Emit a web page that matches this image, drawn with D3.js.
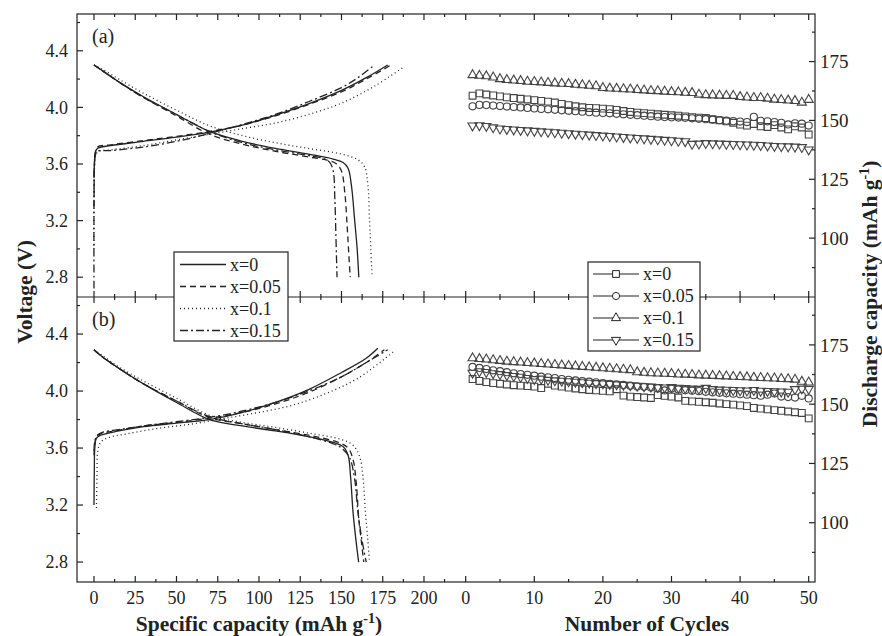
<!DOCTYPE html>
<html>
<head>
<meta charset="utf-8">
<script src="https://cdn.jsdelivr.net/npm/d3@7"></script>
<style>
  body { margin: 0; background: #fff; }
</style>
</head>
<body>
<svg id="chart" width="882" height="636"></svg>
<script>
// ---- data ----
const series = ['x=0', 'x=0.05', 'x=0.1', 'x=0.15'];
const dashes = [null, '6,4', '1,3', '8,3,2,3'];
const symbols = ['square', 'circle', 'triangle', 'triangleDown'];

// voltage curves [capacity mAh/g, V], panel (a)
const chargeA = [
  [[0,3.50],[0.3,3.62],[0.8,3.68],[2,3.71],[10,3.73],[30,3.76],[50,3.79],[70,3.825],[90,3.875],[110,3.945],[130,4.025],[150,4.12],[165,4.21],[178,4.30]],
  [[0,3.30],[0.3,3.60],[0.8,3.68],[2,3.72],[10,3.735],[30,3.765],[50,3.795],[70,3.83],[90,3.875],[110,3.94],[130,4.02],[150,4.11],[165,4.20],[180,4.30]],
  [[0,3.00],[0.4,3.60],[1.2,3.67],[3,3.69],[10,3.70],[30,3.73],[50,3.77],[70,3.81],[90,3.85],[110,3.89],[130,3.95],[150,4.03],[170,4.15],[187,4.28]],
  [[0,2.72],[0.3,3.60],[0.8,3.66],[2,3.69],[10,3.695],[30,3.72],[50,3.76],[70,3.815],[90,3.88],[110,3.95],[130,4.04],[150,4.14],[160,4.21],[170,4.30]]
];
const dischargeA = [
  [[0,4.30],[5,4.26],[15,4.18],[30,4.075],[50,3.95],[70,3.83],[90,3.76],[110,3.71],[130,3.67],[145,3.635],[151,3.61],[154,3.57],[156,3.45],[158,3.20],[159.5,3.00],[160.5,2.80]],
  [[0,4.30],[5,4.26],[15,4.18],[30,4.07],[50,3.94],[70,3.81],[90,3.74],[110,3.69],[130,3.65],[142,3.625],[147,3.60],[150,3.55],[152,3.40],[153.5,3.15],[154.5,2.95],[155.3,2.80]],
  [[0,4.30],[5,4.27],[15,4.20],[30,4.10],[50,3.98],[70,3.87],[90,3.80],[110,3.75],[130,3.71],[150,3.67],[160,3.63],[164,3.58],[166,3.45],[167,3.20],[167.8,3.00],[168.5,2.80]],
  [[0,4.30],[5,4.26],[15,4.18],[30,4.07],[50,3.95],[70,3.83],[90,3.75],[110,3.70],[130,3.66],[140,3.635],[143,3.61],[145,3.55],[146,3.35],[146.6,3.10],[147.3,2.80]]
];
// panel (b)
const chargeB = [
  [[0,3.20],[0.2,3.45],[0.5,3.60],[1.5,3.67],[4,3.69],[15,3.72],[30,3.75],[50,3.775],[70,3.80],[90,3.85],[110,3.92],[130,4.01],[150,4.13],[165,4.23],[172,4.30]],
  [[0,3.55],[0.5,3.63],[1.5,3.68],[4,3.70],[15,3.725],[30,3.755],[50,3.78],[70,3.81],[90,3.85],[110,3.91],[130,3.99],[150,4.10],[165,4.20],[176,4.29]],
  [[1.5,3.18],[1.8,3.40],[2.3,3.58],[4,3.64],[8,3.67],[20,3.70],[40,3.74],[60,3.77],[80,3.81],[100,3.85],[120,3.90],[140,3.98],[160,4.09],[182,4.28]],
  [[0,3.58],[0.5,3.65],[2,3.69],[5,3.71],[15,3.73],[30,3.755],[50,3.785],[70,3.815],[90,3.86],[110,3.92],[130,4.00],[150,4.10],[165,4.20],[178,4.29]]
];
const dischargeB = [
  [[0,4.29],[5,4.24],[15,4.16],[30,4.05],[50,3.92],[70,3.80],[90,3.755],[110,3.72],[130,3.68],[145,3.64],[151,3.61],[154,3.55],[155.5,3.40],[157,3.15],[158.8,2.95],[160.4,2.80]],
  [[0,4.29],[5,4.24],[15,4.16],[30,4.05],[50,3.93],[70,3.815],[90,3.77],[110,3.73],[130,3.69],[148,3.64],[154,3.60],[157,3.52],[159,3.35],[160.5,3.10],[162,2.95],[163.5,2.80]],
  [[0,4.29],[5,4.25],[15,4.17],[30,4.07],[50,3.95],[70,3.83],[90,3.78],[110,3.745],[130,3.705],[150,3.66],[157,3.62],[161,3.54],[163,3.40],[164.5,3.15],[166,2.95],[167,2.80]],
  [[0,4.29],[5,4.24],[15,4.16],[30,4.05],[50,3.93],[70,3.82],[90,3.77],[110,3.73],[130,3.68],[145,3.63],[150,3.60],[155,3.53],[158,3.38],[160,3.15],[162.5,2.95],[165,2.80]]
];

// discharge capacity per cycle (1..50)
const cycleA = [
  [160.5,161.5,161.0,160.6,160.2,159.8,159.5,159.2,158.9,158.6,158.3,158.0,157.6,157.0,156.5,156.0,155.6,155.3,155.2,155.0,154.8,154.5,154.0,153.6,153.3,153.1,152.9,152.6,152.4,152.2,152.0,151.7,151.4,151.2,151.0,150.5,150.0,149.6,149.0,148.2,147.8,148.5,147.5,147.2,148.0,147.0,146.2,147.5,147.0,144.0],
  [156.0,156.6,156.5,156.3,156.1,155.9,155.7,155.5,155.3,155.1,154.9,154.7,154.5,154.3,154.1,153.9,153.7,153.5,153.3,153.1,153.0,152.8,152.6,152.4,152.2,152.0,151.8,151.6,151.4,151.3,151.2,151.1,150.9,150.7,150.5,150.3,150.1,149.9,149.7,149.5,149.3,151.5,149.8,149.6,149.3,149.0,148.3,148.8,148.6,147.8],
  [169.3,169.0,168.8,168.3,167.6,167.2,167.0,166.8,166.5,166.4,166.2,166.0,165.8,165.6,165.5,165.2,165.0,164.8,164.6,163.8,163.6,163.5,163.3,163.2,163.0,162.8,162.6,162.5,162.3,162.1,162.0,161.8,161.7,161.0,160.8,160.7,160.6,160.5,160.5,160.0,159.8,159.6,159.6,159.3,158.9,158.7,158.5,158.3,157.6,158.8],
  [147.8,147.9,147.6,147.0,146.5,146.3,146.1,145.9,145.7,145.5,145.3,145.1,144.9,144.7,144.5,144.3,144.1,143.9,143.7,143.5,143.3,143.1,142.9,142.7,142.5,142.3,142.1,141.9,141.7,141.5,141.3,141.1,140.0,140.1,140.3,140.2,140.1,140.0,139.9,139.8,139.7,139.6,139.5,139.3,139.1,139.0,138.9,138.8,138.6,137.6]
];
const cycleB = [
  [160.6,159.8,159.3,158.9,158.6,158.3,158.0,157.8,157.6,157.4,156.8,158.6,157.8,157.4,157.0,156.6,156.3,156.0,155.8,155.6,155.4,156.3,153.6,153.2,153.0,152.8,152.6,153.8,153.5,153.2,152.8,151.4,151.2,151.0,150.8,150.6,150.3,150.0,149.8,149.5,149.2,148.4,148.1,147.8,147.5,147.2,146.9,146.6,146.3,144.0],
  [165.7,165.3,164.8,164.3,163.9,163.5,163.0,162.7,162.4,162.0,161.6,161.3,161.0,160.6,160.3,160.0,159.7,159.5,159.2,158.9,158.6,158.4,158.1,157.8,157.5,157.3,157.0,156.7,155.8,156.5,156.2,155.9,155.7,155.5,155.2,155.0,154.8,154.6,154.4,154.2,154.0,153.8,153.6,154.0,154.5,153.2,153.0,152.8,153.5,152.4],
  [169.4,169.1,168.9,168.6,168.3,168.0,167.8,167.6,167.4,167.2,167.0,166.8,166.6,166.4,166.2,166.0,165.8,165.6,165.4,165.2,165.0,164.8,164.6,164.4,163.5,163.3,163.1,163.0,162.9,162.8,162.6,162.5,162.4,162.2,162.1,162.0,161.9,161.8,161.6,161.5,161.4,161.2,161.1,161.0,160.9,160.7,160.6,160.4,159.5,159.2],
  [163.2,163.8,163.5,163.0,162.6,162.2,161.8,161.5,161.0,160.5,160.7,160.2,160.0,159.8,159.6,159.4,159.2,159.0,158.8,158.7,158.5,158.3,158.1,157.9,157.7,157.5,157.4,157.2,157.0,157.2,156.9,156.7,156.5,156.4,156.8,156.3,156.1,156.0,155.9,155.8,155.7,155.9,155.6,155.5,155.4,155.3,155.2,156.3,156.5,156.4]
];

const capTicks = [0, 25, 50, 75, 100, 125, 150, 175, 200];
const capMinor = [12.5, 37.5, 62.5, 87.5, 112.5, 137.5, 162.5, 187.5, 212.5];
const cycTicks = [0, 10, 20, 30, 40, 50];
const cycMinor = [5, 15, 25, 35, 45];
const vTicks = [2.8, 3.2, 3.6, 4.0, 4.4];
const vMinor = [3.0, 3.4, 3.8, 4.2, 4.6];
const qTicks = [100, 125, 150, 175];
const qMinor = [87.5, 112.5, 137.5, 162.5, 187.5];

// ---- layout ----
const FONT = '"Liberation Serif", "DejaVu Serif", serif';
const svg = d3.select('#chart').attr('font-family', FONT);
const L = 77, R = 815, T = 14, M = 297, B = 582, SPLIT = 455;
const ink = '#222';

const xCap = d3.scaleLinear([-10.3, 218.8], [L, SPLIT]);
const xCyc = d3.scaleLinear([-1.56, 50.92], [SPLIT, R]);
const panels = [
  { top: T, bot: M, label: '(a)', charge: chargeA, discharge: dischargeA, cycles: cycleA },
  { top: M, bot: B, label: '(b)', charge: chargeB, discharge: dischargeB, cycles: cycleB }
];
panels.forEach(p => {
  p.yV = d3.scaleLinear([2.66, 4.66], [p.bot, p.top]);
  p.yQ = d3.scaleLinear([75, 195.2], [p.bot, p.top]);
});

const symbolPath = {
  square: d3.symbol(d3.symbolSquare, 46)(),
  circle: d3.symbol(d3.symbolCircle, 40)(),
  triangle: d3.symbol(d3.symbolTriangle, 36)(),
  triangleDown: d3.symbol(d3.symbolTriangle, 36)()
};

// ---- curves & markers ----
const plot = svg.append('g');
const line = p => d3.line()
  .x(d => xCap(d[0]))
  .y(d => p.yV(d[1]))
  .curve(d3.curveCatmullRom.alpha(0.5));

panels.forEach(p => {
  [p.charge, p.discharge].forEach(group => {
    group.forEach((pts, i) => {
      plot.append('path')
        .attr('d', line(p)(pts))
        .attr('fill', 'none')
        .attr('stroke', ink)
        .attr('stroke-width', 1.3)
        .attr('stroke-dasharray', dashes[i]);
    });
  });

  p.cycles.forEach((vals, i) => {
    plot.append('g')
      .selectAll('path')
      .data(vals)
      .join('path')
      .attr('d', symbolPath[symbols[i]])
      .attr('transform', (v, k) => `translate(${xCyc(k + 1)},${p.yQ(v)})` + (symbols[i] === 'triangleDown' ? ' rotate(180)' : ''))
      .attr('fill', 'none')
      .attr('stroke', '#444')
      .attr('stroke-width', 1.1);
  });
});

// ---- frame & ticks ----
const axes = svg.append('g').attr('stroke', ink).attr('stroke-width', 1.2);
axes.append('rect')
  .attr('x', L).attr('y', T).attr('width', R - L).attr('height', B - T)
  .attr('fill', 'none');
axes.append('line').attr('x1', L).attr('x2', R).attr('y1', M).attr('y2', M);

// vertical ticks on the horizontal edges: dir +1 points down
function hTicks(scale, vals, y, len, dir) {
  vals.forEach(v => {
    const x = scale(v);
    axes.append('line').attr('x1', x).attr('x2', x).attr('y1', y).attr('y2', y + dir * len);
  });
}
[[xCap, capTicks, capMinor], [xCyc, cycTicks, cycMinor]].forEach(([s, major, minor]) => {
  hTicks(s, major, T, 6, 1);  hTicks(s, minor, T, 3, 1);
  hTicks(s, major, M, 6, 1);  hTicks(s, minor, M, 3, 1);
  hTicks(s, major, M, 6, -1); hTicks(s, minor, M, 3, -1);
  hTicks(s, major, B, 6, -1); hTicks(s, minor, B, 3, -1);
});

function vTicksAt(scale, vals, x, len, dir) {
  vals.forEach(v => {
    const y = scale(v);
    axes.append('line').attr('x1', x).attr('x2', x + dir * len).attr('y1', y).attr('y2', y);
  });
}
panels.forEach(p => {
  vTicksAt(p.yV, vTicks, L, 6, 1);
  vTicksAt(p.yV, vMinor, L, 3, 1);
  vTicksAt(p.yQ, qTicks, R, 6, -1);
  vTicksAt(p.yQ, qMinor, R, 3, -1);
});

// ---- tick labels ----
const txt = svg.append('g').attr('fill', ink).attr('font-size', 18);
panels.forEach(p => {
  txt.append('g').selectAll('text').data(vTicks).join('text')
    .attr('x', L - 9).attr('y', d => p.yV(d)).attr('dy', '0.35em')
    .attr('text-anchor', 'end').text(d => d.toFixed(1));
  txt.append('g').selectAll('text').data(qTicks).join('text')
    .attr('x', R + 5).attr('y', d => p.yQ(d)).attr('dy', '0.35em')
    .attr('font-size', 19).text(d => d);
  txt.append('text').attr('x', 92).attr('y', p.top + 29).attr('font-size', 20).text(p.label);
});
txt.append('g').selectAll('text').data(capTicks).join('text')
  .attr('x', d => xCap(d)).attr('y', B + 22).attr('text-anchor', 'middle').text(d => d);
txt.append('g').selectAll('text').data(cycTicks).join('text')
  .attr('x', d => xCyc(d)).attr('y', B + 22).attr('text-anchor', 'middle').text(d => d);

// ---- axis titles ----
const title = svg.append('g').attr('fill', ink).attr('font-size', 21.5).attr('font-weight', 'bold');
title.append('text')
  .attr('transform', `translate(32,292) rotate(-90)`)
  .attr('text-anchor', 'middle').text('Voltage (V)');
const rt = title.append('text')
  .attr('transform', `translate(877,294) rotate(-90)`)
  .attr('text-anchor', 'middle');
rt.append('tspan').text('Discharge capacity (mAh g');
rt.append('tspan').attr('font-size', 14).attr('dy', -8).text('-1');
rt.append('tspan').attr('dy', 8).text(')');
const bt = title.append('text').attr('x', 259).attr('y', 631).attr('text-anchor', 'middle');
bt.append('tspan').text('Specific capacity (mAh g');
bt.append('tspan').attr('font-size', 14).attr('dy', -8).text('-1');
bt.append('tspan').attr('dy', 8).text(')');
title.append('text').attr('x', 647).attr('y', 631).attr('text-anchor', 'middle').text('Number of Cycles');

// ---- legends ----
const leg1 = svg.append('g');
leg1.append('rect').attr('x', 174).attr('y', 252).attr('width', 114).attr('height', 89)
  .attr('fill', '#fff').attr('stroke', ink).attr('stroke-width', 1.2);
series.forEach((s, i) => {
  const y = 264.5 + i * 22;
  leg1.append('line').attr('x1', 180).attr('x2', 226).attr('y1', y).attr('y2', y)
    .attr('stroke', ink).attr('stroke-width', 1.3).attr('stroke-dasharray', dashes[i]);
  leg1.append('text').attr('x', 230).attr('y', y).attr('dy', '0.35em')
    .attr('font-size', 18).attr('fill', ink).text(s);
});

const leg2 = svg.append('g');
leg2.append('rect').attr('x', 588).attr('y', 262).attr('width', 112).attr('height', 89)
  .attr('fill', '#fff').attr('stroke', ink).attr('stroke-width', 1.2);
series.forEach((s, i) => {
  const y = 274 + i * 22;
  leg2.append('line').attr('x1', 593).attr('x2', 639).attr('y1', y).attr('y2', y)
    .attr('stroke', ink).attr('stroke-width', 1.2);
  leg2.append('path').attr('d', symbolPath[symbols[i]])
    .attr('transform', `translate(616,${y})` + (symbols[i] === 'triangleDown' ? ' rotate(180)' : ''))
    .attr('fill', '#fff').attr('stroke', ink).attr('stroke-width', 1);
  leg2.append('text').attr('x', 643).attr('y', y).attr('dy', '0.35em')
    .attr('font-size', 18).attr('fill', ink).text(s);
});
</script>
</body>
</html>
